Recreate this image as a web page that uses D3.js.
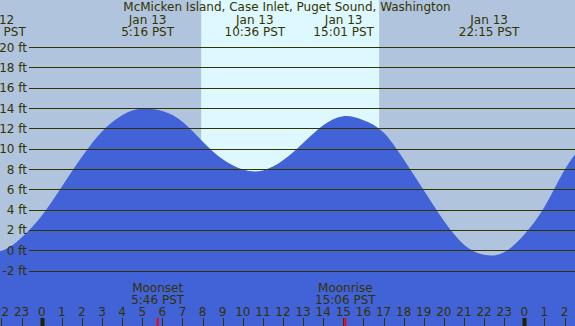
<!DOCTYPE html>
<html lang="en">
<head>
    <meta charset="UTF-8">
    <title>Tide chart</title>
    <style>
        body { margin: 0; padding: 0; overflow: hidden; }
        svg { display: block; }
        text { font-family: "DejaVu Sans", sans-serif; font-size: 12px; fill: #333300; }
    </style>
</head>
<body>
<svg id="chart"></svg>
<script src="https://cdn.jsdelivr.net/npm/d3@7"></script>
<script>
    const w = 575, h = 326;
    const title = "McMicken Island, Case Inlet, Puget Sound, Washington";

    // hourly tide height (hours from Jan 13 00:00 PST), feet
    const tideHours = d3.range(-3, 28);
    const tideFeet = [0.1, -0.05, 1.25, 3.4, 6.25, 9.2, 11.7, 13.3, 13.95, 13.7, 12.65, 10.7,
        8.95, 7.95, 7.85, 8.85, 10.55, 12.3, 13.2, 12.8, 11.6, 8.95, 5.9, 2.9,
        0.55, -0.45, -0.2, 1.55, 4.25, 7.9, 10.6];

    // high / low labels at the top
    const extremeHours = [-2.3, 5.267, 10.6, 15.017, 22.25];
    const extremeDates = ["Jan 12", "Jan 13", "Jan 13", "Jan 13", "Jan 13"];
    const extremeTimes = ["21:42 PST", "5:16 PST", "10:36 PST", "15:01 PST", "22:15 PST"];

    // moon events at the bottom
    const moonHours = [5.767, 15.1];
    const moonNames = ["Moonset", "Moonrise"];
    const moonTimes = ["5:46 PST", "15:06 PST"];

    const sunrise = 7.93, sunset = 16.78;
    const feetTicks = [-2, 0, 2, 4, 6, 8, 10, 12, 14, 16, 18, 20];
    const hourTicks = d3.range(-2, 27);

    const x = d3.scaleLinear().domain([0, 24]).range([41.7, 524.3]);
    const y = d3.scaleLinear().domain([-2, 20]).range([270.6, 47.1]);

    const svg = d3.select("#chart").attr("width", w).attr("height", h);

    // night background + daylight band
    svg.append("rect").attr("width", w).attr("height", h).attr("fill", "#b0c4de");
    svg.append("rect")
        .attr("x", x(sunrise)).attr("y", 0)
        .attr("width", x(sunset) - x(sunrise)).attr("height", h)
        .attr("fill", "#ddf8ff");

    // water
    const tide = tideHours.map((t, i) => ({t: t, v: tideFeet[i]}));
    const area = d3.area()
        .x(d => x(d.t))
        .y0(h)
        .y1(d => y(d.v))
        .curve(d3.curveNatural);
    svg.append("path").datum(tide).attr("d", area).attr("fill", "#4262d7");

    // horizontal grid + labels
    svg.selectAll(".grid")
        .data(feetTicks)
        .enter().append("line")
        .attr("x1", 29).attr("x2", w)
        .attr("y1", d => Math.round(y(d)) + 0.5)
        .attr("y2", d => Math.round(y(d)) + 0.5)
        .attr("stroke", "#333300")
        .attr("stroke-width", 1);
    svg.selectAll(".ylab")
        .data(feetTicks)
        .enter().append("text")
        .attr("x", 27)
        .attr("y", d => y(d) + 4.5)
        .attr("text-anchor", "end")
        .text(d => d + " ft");

    // title and tide extremes
    svg.append("text").attr("x", 287).attr("y", 11).attr("text-anchor", "middle").text(title);
    const ext = svg.selectAll(".ext")
        .data(extremeHours)
        .enter().append("g");
    ext.append("text")
        .attr("x", d => x(d)).attr("y", 24)
        .attr("text-anchor", "middle")
        .text((d, i) => extremeDates[i]);
    ext.append("text")
        .attr("x", d => x(d)).attr("y", 36)
        .attr("text-anchor", "middle")
        .text((d, i) => extremeTimes[i]);

    // moon events
    moonHours.forEach((m, i) => {
        svg.append("text").attr("x", x(m)).attr("y", 292).attr("text-anchor", "middle").text(moonNames[i]);
        svg.append("text").attr("x", x(m)).attr("y", 304).attr("text-anchor", "middle").text(moonTimes[i]);
    });

    // hour axis
    svg.selectAll(".hlab")
        .data(hourTicks)
        .enter().append("text")
        .attr("x", d => x(d)).attr("y", 316)
        .attr("text-anchor", "middle")
        .text(d => ((d % 24) + 24) % 24);
    svg.selectAll(".htick")
        .data(hourTicks)
        .enter().append("line")
        .attr("x1", d => Math.round(x(d)) + 0.5)
        .attr("x2", d => Math.round(x(d)) + 0.5)
        .attr("y1", 318).attr("y2", h)
        .attr("stroke", d => d % 24 == 0 ? "#222200" : "#333300")
        .attr("stroke-width", d => d % 24 == 0 ? 4 : 1);
    svg.selectAll(".mtick")
        .data(moonHours)
        .enter().append("line")
        .attr("x1", d => x(d)).attr("x2", d => x(d))
        .attr("y1", 318).attr("y2", h)
        .attr("stroke", "#ff0000")
        .attr("stroke-width", 2);
</script>
</body>
</html>
